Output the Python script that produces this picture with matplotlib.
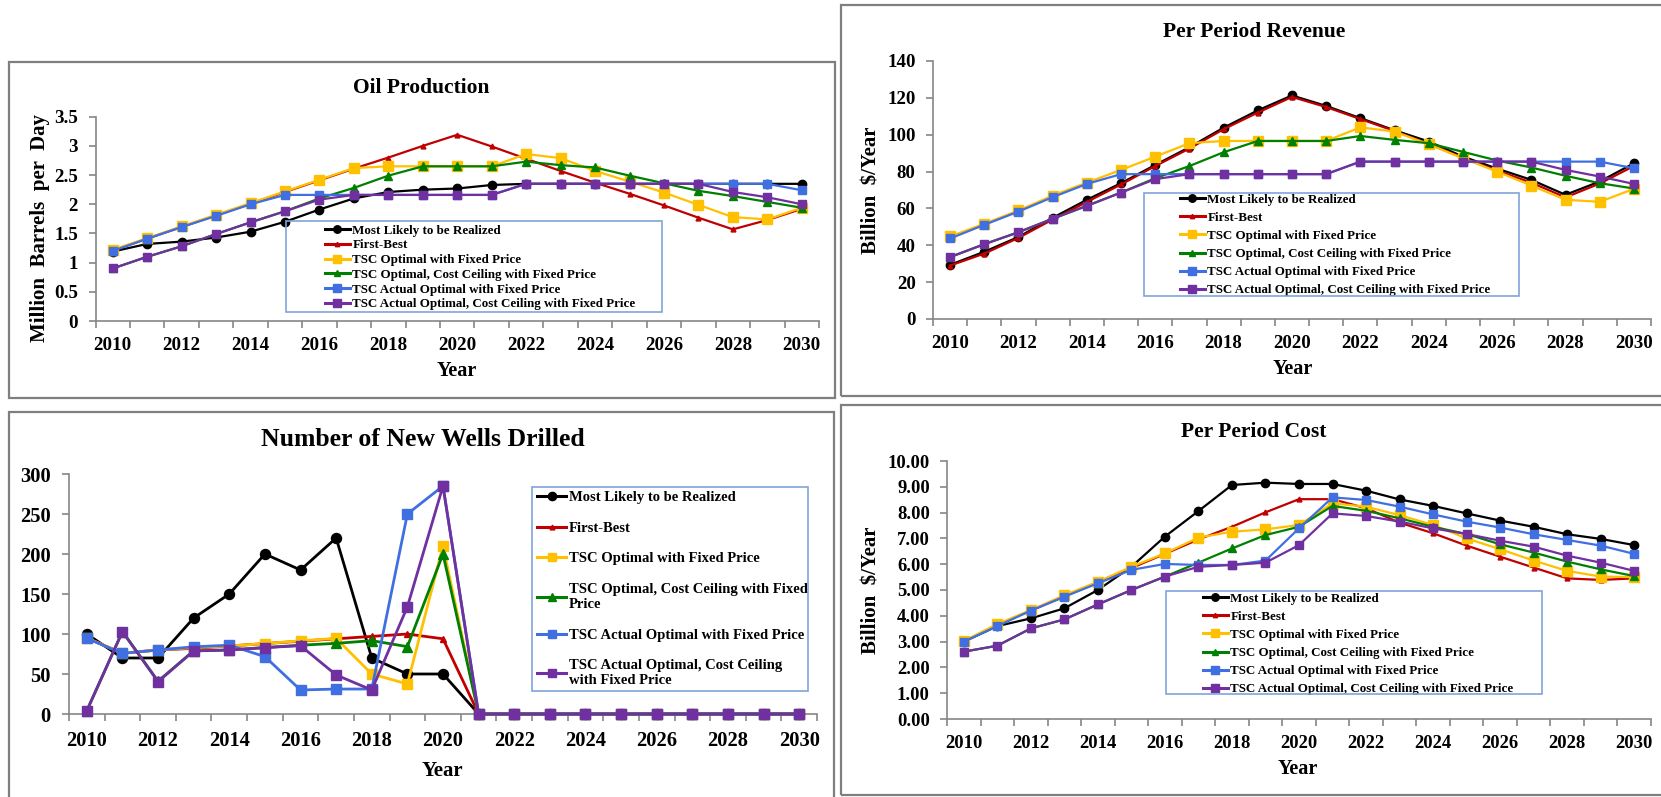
import matplotlib
matplotlib.use('Agg')
import matplotlib.pyplot as plt
from matplotlib.patches import Rectangle
from matplotlib.lines import Line2D
from matplotlib.ticker import FixedLocator

W, H, DPI = 1661, 797, 100
FONT = 'Liberation Serif'

years = list(range(2010, 2031))
year_labels = [str(y) if y % 2 == 0 else '' for y in years]

series_names = [
    'Most Likely to be Realized',
    'First-Best',
    'TSC Optimal with Fixed Price',
    'TSC Optimal, Cost Ceiling with Fixed Price',
    'TSC Actual Optimal with Fixed Price',
    'TSC Actual Optimal, Cost Ceiling with Fixed Price',
]
series_names_wrapped = [
    'Most Likely to be Realized',
    'First-Best',
    'TSC Optimal with Fixed Price',
    'TSC Optimal, Cost Ceiling with Fixed\nPrice',
    'TSC Actual Optimal with Fixed Price',
    'TSC Actual Optimal, Cost Ceiling\nwith Fixed Price',
]
colors = ['#000000', '#C00000', '#FFC000', '#008000', '#3F6FE0', '#7030A0']
markers = ['o', '^', 's', '^', 's', 's']
msizes = [6, 3.5, 6.5, 5.5, 6, 6]

# Oil production (million barrels per day)
oil_most_likely = [1.19, 1.32, 1.36, 1.43, 1.53, 1.70, 1.91, 2.10, 2.21, 2.25, 2.27, 2.33, 2.35, 2.35, 2.35, 2.35, 2.35, 2.35, 2.35, 2.35, 2.35]
oil_first_best = [1.21, 1.41, 1.61, 1.81, 2.01, 2.21, 2.41, 2.61, 2.80, 3.00, 3.19, 2.99, 2.78, 2.57, 2.37, 2.18, 1.98, 1.77, 1.57, 1.73, 1.92]
oil_tsc_opt = [1.22, 1.42, 1.62, 1.82, 2.02, 2.22, 2.42, 2.62, 2.65, 2.65, 2.65, 2.65, 2.86, 2.79, 2.57, 2.39, 2.20, 1.99, 1.78, 1.74, 1.94]
oil_tsc_opt_cc = [0.90, 1.10, 1.28, 1.49, 1.69, 1.88, 2.10, 2.28, 2.49, 2.65, 2.65, 2.65, 2.73, 2.67, 2.63, 2.49, 2.36, 2.23, 2.14, 2.04, 1.94]
oil_tsc_act = [1.20, 1.41, 1.61, 1.80, 2.00, 2.16, 2.16, 2.16, 2.16, 2.16, 2.16, 2.16, 2.35, 2.35, 2.35, 2.35, 2.35, 2.35, 2.35, 2.35, 2.24]
oil_tsc_act_cc = [0.90, 1.10, 1.28, 1.49, 1.69, 1.88, 2.08, 2.16, 2.16, 2.16, 2.16, 2.16, 2.35, 2.35, 2.35, 2.35, 2.35, 2.35, 2.21, 2.12, 2.00]

# Per period revenue (billion $/year)
rev_most_likely = [29.4, 36.5, 44.5, 54.9, 64.7, 73.7, 83.6, 93.2, 103.8, 113.2, 121.3, 115.6, 109.0, 102.4, 96.3, 88.1, 81.6, 75.5, 67.4, 74.6, 84.5]
rev_first_best = [29.0, 35.5, 44.0, 54.0, 63.5, 73.0, 83.0, 92.5, 103.0, 112.0, 120.5, 115.0, 108.5, 102.0, 95.0, 87.5, 80.5, 74.0, 66.0, 73.5, 83.0]
rev_tsc_opt = [44.8, 51.7, 58.9, 67.0, 74.0, 80.9, 88.1, 95.4, 96.6, 96.6, 96.6, 96.6, 104.0, 101.7, 94.8, 87.2, 80.0, 72.4, 64.7, 63.6, 70.6]
rev_tsc_opt_cc = [33.6, 40.6, 47.1, 54.4, 61.4, 68.6, 76.4, 83.0, 90.5, 96.6, 96.6, 96.6, 99.3, 97.2, 95.4, 90.7, 86.0, 82.2, 77.7, 73.7, 70.8]
rev_tsc_act = [43.7, 51.1, 58.3, 66.1, 73.3, 78.6, 78.6, 78.6, 78.6, 78.6, 78.6, 78.6, 85.4, 85.4, 85.4, 85.4, 85.4, 85.4, 85.4, 85.4, 81.8]
rev_tsc_act_cc = [33.6, 40.6, 47.1, 54.4, 61.4, 68.6, 75.9, 78.6, 78.6, 78.6, 78.6, 78.6, 85.4, 85.4, 85.4, 85.4, 85.4, 85.4, 80.9, 77.3, 73.3]

# Number of new wells drilled
wells_most_likely = [100, 70, 70, 120, 150, 200, 180, 220, 70, 50, 50, 0, 0, 0, 0, 0, 0, 0, 0, 0, 0]
wells_first_best = [95, 76, 80, 82, 85, 88, 91, 94, 97, 100, 94, 0, 0, 0, 0, 0, 0, 0, 0, 0, 0]
wells_tsc_opt = [95, 76, 80, 83, 85, 88, 91.5, 94.5, 50, 37.5, 210, 0, 0, 0, 0, 0, 0, 0, 0, 0, 0]
wells_tsc_opt_cc = [4, 103, 41, 79, 80, 83, 86, 88.3, 91.7, 84.2, 200, 0, 0, 0, 0, 0, 0, 0, 0, 0, 0]
wells_tsc_act = [94.6, 75.8, 80, 84, 86, 71.7, 30, 31.2, 31.2, 250, 285, 0, 0, 0, 0, 0, 0, 0, 0, 0, 0]
wells_tsc_act_cc = [4.2, 103, 40.4, 78.8, 80, 83, 85.4, 48.8, 30, 134, 285, 0, 0, 0, 0, 0, 0, 0, 0, 0, 0]

# Per period cost (billion $/year)
cost_most_likely = [3.00, 3.60, 3.90, 4.29, 5.00, 5.90, 7.07, 8.06, 9.07, 9.16, 9.11, 9.11, 8.85, 8.51, 8.26, 7.97, 7.69, 7.45, 7.16, 6.98, 6.74]
cost_first_best = [3.00, 3.65, 4.20, 4.75, 5.30, 5.85, 6.40, 6.96, 7.45, 8.01, 8.52, 8.52, 8.17, 7.61, 7.20, 6.72, 6.29, 5.87, 5.45, 5.39, 5.45]
cost_tsc_opt = [3.02, 3.68, 4.22, 4.80, 5.32, 5.90, 6.42, 7.03, 7.26, 7.35, 7.52, 8.36, 8.23, 7.90, 7.52, 7.00, 6.58, 6.14, 5.74, 5.52, 5.50]
cost_tsc_opt_cc = [2.61, 2.84, 3.51, 3.86, 4.44, 5.00, 5.52, 6.06, 6.61, 7.13, 7.45, 8.26, 8.07, 7.78, 7.45, 7.17, 6.77, 6.45, 6.10, 5.80, 5.54]
cost_tsc_act = [3.00, 3.60, 4.20, 4.74, 5.26, 5.78, 6.01, 5.97, 5.97, 6.14, 7.39, 8.59, 8.49, 8.23, 7.93, 7.65, 7.42, 7.16, 6.94, 6.72, 6.40]
cost_tsc_act_cc = [2.61, 2.84, 3.51, 3.86, 4.44, 5.00, 5.52, 5.90, 5.97, 6.06, 6.74, 7.97, 7.87, 7.65, 7.39, 7.17, 6.91, 6.68, 6.33, 6.06, 5.74]

oil_ticks = [0, 0.5, 1, 1.5, 2, 2.5, 3, 3.5]
oil_ticklabels = ['0', '0.5', '1', '1.5', '2', '2.5', '3', '3.5']
rev_ticks = [0, 20, 40, 60, 80, 100, 120, 140]
wells_ticks = [0, 50, 100, 150, 200, 250, 300]
cost_ticks = [0, 1, 2, 3, 4, 5, 6, 7, 8, 9, 10]

plt.rcParams['font.family'] = FONT
plt.rcParams['font.weight'] = 'bold'

fig = plt.figure(figsize=(W / DPI, H / DPI), dpi=DPI)
fig.patch.set_facecolor('white')


def fx(px):
    return px / W


def fy(py):
    return 1 - py / H


def box(x0, y0, x1, y1, color='#7F7F7F', lw=1.6):
    fig.patches.append(Rectangle((fx(x0), fy(y1)), fx(x1 - x0), (y1 - y0) / H,
                                 transform=fig.transFigure, fill=False,
                                 edgecolor=color, linewidth=lw))


def panel(l, t, r, b, data, yticks, yticklabels, fs, ms_scale=1.0, lw=1.6):
    ax = fig.add_axes([fx(l), fy(b), fx(r - l), (b - t) / H])
    x = list(range(len(years)))
    for i, ys in enumerate(data):
        ax.plot(x, ys, color=colors[i], marker=markers[i],
                markersize=msizes[i] * ms_scale, linewidth=lw,
                markeredgecolor=colors[i], zorder=3 + i, clip_on=False)
    ax.set_xlim(-0.5, len(years) - 0.5)
    ax.set_ylim(yticks[0], yticks[-1])
    ax.set_xticks(x)
    ax.set_xticklabels(year_labels)
    ax.xaxis.set_minor_locator(FixedLocator([v - 0.5 for v in range(len(years) + 1)]))
    ax.tick_params(axis='x', which='major', length=0, pad=fs * 0.62 + 3)
    ax.tick_params(axis='x', which='minor', length=5, width=1.2, color='#868686', direction='out')
    ax.set_yticks(yticks)
    ax.set_yticklabels(yticklabels)
    ax.tick_params(axis='y', length=5, width=1.2, color='#868686', direction='out', pad=fs * 0.55)
    for lab in ax.get_xticklabels() + ax.get_yticklabels():
        lab.set_fontsize(fs)
        lab.set_fontweight('bold')
    for s in ['top', 'right']:
        ax.spines[s].set_visible(False)
    for s in ['left', 'bottom']:
        ax.spines[s].set_color('#868686')
        ax.spines[s].set_linewidth(1.2)
    ax.patch.set_alpha(0)
    return ax


def legend(ax, labels, fx0, fy_c, frame, fs, spacing, ms_scale=1.0, hl=1.9):
    handles = [Line2D([], [], color=colors[i], marker=markers[i],
                      markersize=msizes[i] * ms_scale * 0.9, linewidth=2.2)
               for i in range(len(labels))]
    leg = ax.legend(handles, labels, loc='center left',
                    bbox_to_anchor=(fx(fx0), fy(fy_c)), bbox_transform=fig.transFigure,
                    frameon=False, borderpad=0, borderaxespad=0,
                    handlelength=hl, handletextpad=0.2, labelspacing=spacing,
                    prop={'family': FONT, 'weight': 'bold', 'size': fs})
    leg.set_zorder(20)
    box(*frame, color='#7FA6D9', lw=1.2)


# Panel frames
box(9, 62, 835, 398)
box(841, 5, 1668, 396)
box(9, 412, 834, 805)
box(841, 405, 1668, 795)

# Top-left: Oil Production
ax1 = panel(95.5, 116.7, 819, 321,
            [oil_most_likely, oil_first_best, oil_tsc_opt, oil_tsc_opt_cc, oil_tsc_act, oil_tsc_act_cc],
            oil_ticks, oil_ticklabels, 13.7)
fig.text(fx(421), fy(88), 'Oil Production', ha='center', va='center', fontsize=15.5, fontweight='bold')
fig.text(fx(40), fy(228), 'Million  Barrels  per  Day', ha='center', va='center', rotation=90,
         fontsize=15, fontweight='bold')
fig.text(fx(457), fy(371), 'Year', ha='center', va='center', fontsize=14.5, fontweight='bold')
legend(ax1, series_names, 325, 267.5, (286, 221, 662, 312), 9.4, 0.2)

# Top-right: Per Period Revenue
ax2 = panel(933, 61, 1651, 319,
            [rev_most_likely, rev_first_best, rev_tsc_opt, rev_tsc_opt_cc, rev_tsc_act, rev_tsc_act_cc],
            rev_ticks, [str(v) for v in rev_ticks], 13.6)
fig.text(fx(1254), fy(32), 'Per Period Revenue', ha='center', va='center', fontsize=15.5, fontweight='bold')
fig.text(fx(872), fy(190), 'Billion  $/Year', ha='center', va='center', rotation=90,
         fontsize=15, fontweight='bold')
fig.text(fx(1293), fy(369), 'Year', ha='center', va='center', fontsize=14.5, fontweight='bold')
legend(ax2, series_names, 1180, 245, (1144, 193, 1519, 296), 9.4, 0.45)

# Bottom-left: Number of New Wells Drilled
ax3 = panel(69, 474, 817, 714,
            [wells_most_likely, wells_first_best, wells_tsc_opt, wells_tsc_opt_cc, wells_tsc_act, wells_tsc_act_cc],
            wells_ticks, [str(v) for v in wells_ticks], 14.8, ms_scale=1.2, lw=2.0)
fig.text(fx(423), fy(439), 'Number of New Wells Drilled', ha='center', va='center', fontsize=18.5, fontweight='bold')
fig.text(fx(442), fy(771), 'Year', ha='center', va='center', fontsize=15, fontweight='bold')
legend(ax3, series_names_wrapped, 537, 589, (532, 487, 808, 691), 10.5, 1.2, ms_scale=1.1, hl=2.0)

# Bottom-right: Per Period Cost
ax4 = panel(947, 461, 1651, 719,
            [cost_most_likely, cost_first_best, cost_tsc_opt, cost_tsc_opt_cc, cost_tsc_act, cost_tsc_act_cc],
            cost_ticks, ['%.2f' % v for v in cost_ticks], 13.4)
fig.text(fx(1254), fy(432), 'Per Period Cost', ha='center', va='center', fontsize=15.5, fontweight='bold')
fig.text(fx(872), fy(590), 'Billion  $/Year', ha='center', va='center', rotation=90,
         fontsize=15, fontweight='bold')
fig.text(fx(1298), fy(769), 'Year', ha='center', va='center', fontsize=14.5, fontweight='bold')
legend(ax4, series_names, 1203, 644, (1166, 591, 1542, 694), 9.4, 0.45)

fig.savefig('out.png', dpi=DPI, facecolor='white')
